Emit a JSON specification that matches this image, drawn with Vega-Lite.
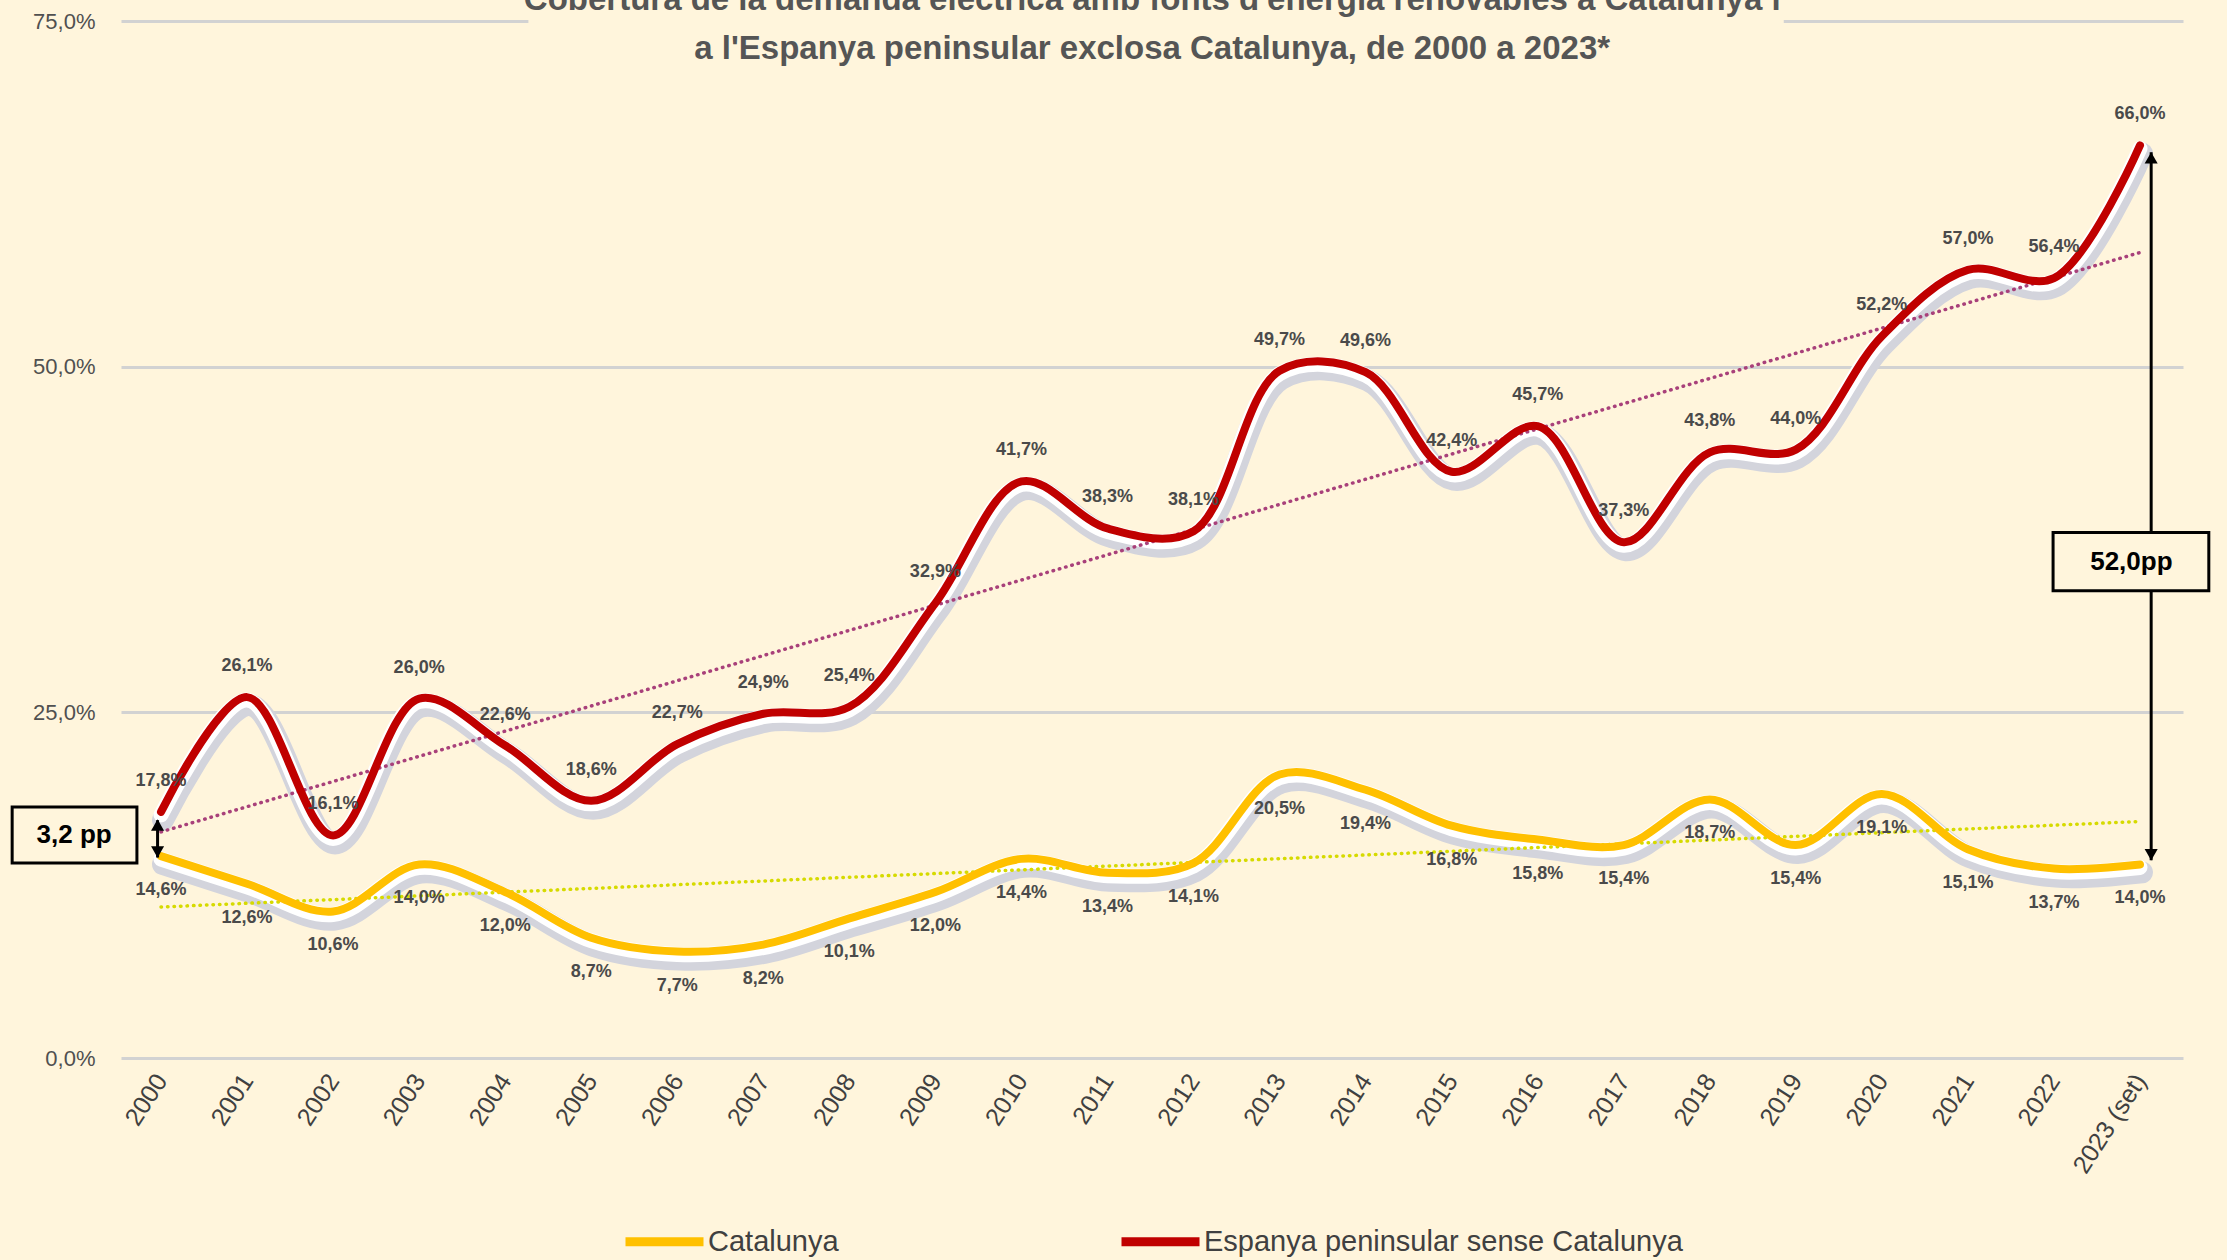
{
  "$schema": "https://vega.github.io/schema/vega-lite/v6.json",
  "autosize": "none",
  "width": 2062,
  "height": 1037,
  "padding": {"left": 121, "top": 21, "right": 44, "bottom": 202},
  "background": "#FFF5DC",
  "config": {
    "view": {"stroke": null},
    "locale": {"number": {"decimal": ",", "thousands": ".", "grouping": [3], "currency": ["", " €"]}},
    "font": "Liberation Sans"
  },
  "datasets": {
    "d": [
      {"year": 2000, "series": "Catalunya", "value": 0.146},
      {"year": 2001, "series": "Catalunya", "value": 0.126},
      {"year": 2002, "series": "Catalunya", "value": 0.106},
      {"year": 2003, "series": "Catalunya", "value": 0.140},
      {"year": 2004, "series": "Catalunya", "value": 0.120},
      {"year": 2005, "series": "Catalunya", "value": 0.087},
      {"year": 2006, "series": "Catalunya", "value": 0.077},
      {"year": 2007, "series": "Catalunya", "value": 0.082},
      {"year": 2008, "series": "Catalunya", "value": 0.101},
      {"year": 2009, "series": "Catalunya", "value": 0.120},
      {"year": 2010, "series": "Catalunya", "value": 0.144},
      {"year": 2011, "series": "Catalunya", "value": 0.134},
      {"year": 2012, "series": "Catalunya", "value": 0.141},
      {"year": 2013, "series": "Catalunya", "value": 0.205},
      {"year": 2014, "series": "Catalunya", "value": 0.194},
      {"year": 2015, "series": "Catalunya", "value": 0.168},
      {"year": 2016, "series": "Catalunya", "value": 0.158},
      {"year": 2017, "series": "Catalunya", "value": 0.154},
      {"year": 2018, "series": "Catalunya", "value": 0.187},
      {"year": 2019, "series": "Catalunya", "value": 0.154},
      {"year": 2020, "series": "Catalunya", "value": 0.191},
      {"year": 2021, "series": "Catalunya", "value": 0.151},
      {"year": 2022, "series": "Catalunya", "value": 0.137},
      {"year": 2023, "series": "Catalunya", "value": 0.140},
      {"year": 2000, "series": "Espanya peninsular sense Catalunya", "value": 0.178},
      {"year": 2001, "series": "Espanya peninsular sense Catalunya", "value": 0.261},
      {"year": 2002, "series": "Espanya peninsular sense Catalunya", "value": 0.161},
      {"year": 2003, "series": "Espanya peninsular sense Catalunya", "value": 0.260},
      {"year": 2004, "series": "Espanya peninsular sense Catalunya", "value": 0.226},
      {"year": 2005, "series": "Espanya peninsular sense Catalunya", "value": 0.186},
      {"year": 2006, "series": "Espanya peninsular sense Catalunya", "value": 0.227},
      {"year": 2007, "series": "Espanya peninsular sense Catalunya", "value": 0.249},
      {"year": 2008, "series": "Espanya peninsular sense Catalunya", "value": 0.254},
      {"year": 2009, "series": "Espanya peninsular sense Catalunya", "value": 0.329},
      {"year": 2010, "series": "Espanya peninsular sense Catalunya", "value": 0.417},
      {"year": 2011, "series": "Espanya peninsular sense Catalunya", "value": 0.383},
      {"year": 2012, "series": "Espanya peninsular sense Catalunya", "value": 0.381},
      {"year": 2013, "series": "Espanya peninsular sense Catalunya", "value": 0.497},
      {"year": 2014, "series": "Espanya peninsular sense Catalunya", "value": 0.496},
      {"year": 2015, "series": "Espanya peninsular sense Catalunya", "value": 0.424},
      {"year": 2016, "series": "Espanya peninsular sense Catalunya", "value": 0.457},
      {"year": 2017, "series": "Espanya peninsular sense Catalunya", "value": 0.373},
      {"year": 2018, "series": "Espanya peninsular sense Catalunya", "value": 0.438},
      {"year": 2019, "series": "Espanya peninsular sense Catalunya", "value": 0.440},
      {"year": 2020, "series": "Espanya peninsular sense Catalunya", "value": 0.522},
      {"year": 2021, "series": "Espanya peninsular sense Catalunya", "value": 0.570},
      {"year": 2022, "series": "Espanya peninsular sense Catalunya", "value": 0.564},
      {"year": 2023, "series": "Espanya peninsular sense Catalunya", "value": 0.660}
    ]
  },
  "data": {"name": "d"},
  "encoding": {
    "x": {
      "field": "year", "type": "quantitative",
      "scale": {"domain": [1999.535, 2023.5], "nice": false, "zero": false},
      "axis": {
        "title": null, "values": [2000,2001,2002,2003,2004,2005,2006,2007,2008,2009,2010,2011,2012,2013,2014,2015,2016,2017,2018,2019,2020,2021,2022,2023],
        "labelExpr": "datum.value == 2023 ? '2023 (set)' : '' + datum.value",
        "labelAngle": -57, "labelFontSize": 25, "labelColor": "#404040",
        "labelPadding": 18, "domain": false, "ticks": false, "grid": false,
        "labelFont": "Liberation Sans", "labelOverlap": false, "labelBound": false, "labelFlush": false
      }
    },
    "y": {
      "field": "value", "type": "quantitative",
      "scale": {"domain": [0, 0.75], "nice": false},
      "axis": {
        "title": null, "values": [0, 0.25, 0.5, 0.75], "format": ".1%",
        "labelFontSize": 22, "labelColor": "#505050", "labelPadding": 26,
        "domain": false, "ticks": false, "grid": true, "gridColor": "#d2d2d2", "gridWidth": 3,
        "labelFont": "Liberation Sans"
      }
    }
  },
  "layer": [
    {
      "transform": [{"filter": "datum.year == 2000 && datum.series == 'Catalunya'"}],
      "mark": {"type": "rect", "fill": "#FFF5DC"},
      "encoding": {
        "x": {"datum": 2004.27, "type": "quantitative"},
        "x2": {"datum": 2018.86},
        "y": {"datum": 0.74, "type": "quantitative"},
        "y2": {"datum": 0.76}
      }
    },
    {
      "mark": {"type": "line", "interpolate": "catmull-rom", "stroke": "#d3d4dc", "strokeWidth": 22, "yOffset": 8, "xOffset": 2, "strokeCap": "round", "strokeJoin": "round"},
      "encoding": {"detail": {"field": "series"}}
    },
    {
      "mark": {"type": "line", "interpolate": "catmull-rom", "stroke": "#ffffff", "strokeWidth": 15, "yOffset": 3, "strokeCap": "round", "strokeJoin": "round"},
      "encoding": {"detail": {"field": "series"}}
    },
    {
      "transform": [{"filter": "datum.series == 'Catalunya'"}, {"regression": "value", "on": "year"}],
      "mark": {"type": "line", "stroke": "#D6DA00", "strokeWidth": 3.5, "strokeDash": [0.5, 6], "strokeCap": "round"},
      "encoding": {}
    },
    {
      "transform": [{"filter": "datum.series != 'Catalunya'"}, {"regression": "value", "on": "year"}],
      "mark": {"type": "line", "stroke": "#A8407A", "strokeWidth": 3.5, "strokeDash": [0.5, 6], "strokeCap": "round"},
      "encoding": {}
    },
    {
      "mark": {"type": "line", "interpolate": "catmull-rom", "strokeWidth": 8, "strokeCap": "round", "strokeJoin": "round"},
      "encoding": {
        "color": {
          "field": "series", "type": "nominal",
          "scale": {"domain": ["Catalunya", "Espanya peninsular sense Catalunya"], "range": ["#FFC000", "#C00000"]},
          "legend": {
            "title": null, "orient": "none", "direction": "horizontal", "legendX": 500, "legendY": 1177,
            "symbolType": "stroke", "symbolSize": 6084, "symbolStrokeWidth": 9,
            "labelFontSize": 29, "labelColor": "#404040", "labelFont": "Liberation Sans", "labelLimit": 600,
            "columnPadding": 264, "labelOffset": 0
          }
        }
      }
    },
    {
      "transform": [{"filter": "datum.series == 'Catalunya'"}],
      "mark": {"type": "text", "dy": 34, "fontSize": 18, "fontWeight": "bold", "color": "#4a4a4a", "baseline": "middle"},
      "encoding": {"text": {"field": "value", "type": "quantitative", "format": ".1%"}}
    },
    {
      "transform": [{"filter": "datum.series != 'Catalunya'"}],
      "mark": {"type": "text", "dy": -31, "fontSize": 18, "fontWeight": "bold", "color": "#4a4a4a", "baseline": "middle"},
      "encoding": {"text": {"field": "value", "type": "quantitative", "format": ".1%"}}
    },
    {
      "transform": [{"filter": "datum.year == 2000 && datum.series == 'Catalunya'"}],
      "mark": {"type": "rule", "color": "black", "strokeWidth": 3},
      "encoding": {
        "x": {"datum": 1999.96, "type": "quantitative"},
        "y": {"datum": 0.172, "type": "quantitative"},
        "y2": {"datum": 0.145}
      }
    },
    {
      "transform": [{"filter": "datum.year == 2000 && datum.series == 'Catalunya'"}],
      "mark": {"type": "rule", "color": "black", "strokeWidth": 3},
      "encoding": {
        "x": {"datum": 2023.13, "type": "quantitative"},
        "y": {"datum": 0.655, "type": "quantitative"},
        "y2": {"datum": 0.143}
      }
    },
    {
      "transform": [{"filter": "datum.year == 2000 && datum.series == 'Catalunya'"}],
      "mark": {"type": "point", "shape": "triangle-up", "filled": true, "color": "black", "size": 170, "opacity": 1},
      "encoding": {
        "x": {"datum": 1999.96, "type": "quantitative"},
        "y": {"datum": 0.1685, "type": "quantitative"}
      }
    },
    {
      "transform": [{"filter": "datum.year == 2000 && datum.series == 'Catalunya'"}],
      "mark": {"type": "point", "shape": "triangle-down", "filled": true, "color": "black", "size": 170, "opacity": 1},
      "encoding": {
        "x": {"datum": 1999.96, "type": "quantitative"},
        "y": {"datum": 0.149, "type": "quantitative"}
      }
    },
    {
      "transform": [{"filter": "datum.year == 2000 && datum.series == 'Catalunya'"}],
      "mark": {"type": "point", "shape": "triangle-up", "filled": true, "color": "black", "size": 170, "opacity": 1},
      "encoding": {
        "x": {"datum": 2023.13, "type": "quantitative"},
        "y": {"datum": 0.651, "type": "quantitative"}
      }
    },
    {
      "transform": [{"filter": "datum.year == 2000 && datum.series == 'Catalunya'"}],
      "mark": {"type": "point", "shape": "triangle-down", "filled": true, "color": "black", "size": 170, "opacity": 1},
      "encoding": {
        "x": {"datum": 2023.13, "type": "quantitative"},
        "y": {"datum": 0.147, "type": "quantitative"}
      }
    },
    {
      "transform": [{"filter": "datum.year == 2000 && datum.series == 'Catalunya'"}],
      "mark": {"type": "rect", "fill": "#FFF5DC", "stroke": "black", "strokeWidth": 3},
      "encoding": {
        "x": {"datum": 1998.27, "type": "quantitative"},
        "x2": {"datum": 1999.72},
        "y": {"datum": 0.1816, "type": "quantitative"},
        "y2": {"datum": 0.1411}
      }
    },
    {
      "transform": [{"filter": "datum.year == 2000 && datum.series == 'Catalunya'"}],
      "mark": {"type": "rect", "fill": "#FFF5DC", "stroke": "black", "strokeWidth": 3},
      "encoding": {
        "x": {"datum": 2021.99, "type": "quantitative"},
        "x2": {"datum": 2023.8},
        "y": {"datum": 0.380, "type": "quantitative"},
        "y2": {"datum": 0.338}
      }
    },
    {
      "transform": [{"filter": "datum.year == 2000 && datum.series == 'Catalunya'"}],
      "mark": {"type": "text", "text": "3,2 pp", "fontSize": 26, "fontWeight": "bold", "color": "black", "baseline": "middle", "align": "center"},
      "encoding": {
        "x": {"datum": 1998.99, "type": "quantitative"},
        "y": {"datum": 0.1614, "type": "quantitative"}
      }
    },
    {
      "transform": [{"filter": "datum.year == 2000 && datum.series == 'Catalunya'"}],
      "mark": {"type": "text", "text": "52,0pp", "fontSize": 26, "fontWeight": "bold", "color": "black", "baseline": "middle", "align": "center"},
      "encoding": {
        "x": {"datum": 2022.9, "type": "quantitative"},
        "y": {"datum": 0.359, "type": "quantitative"}
      }
    },
    {
      "transform": [{"filter": "datum.year == 2000 && datum.series == 'Catalunya'"}],
      "mark": {"type": "text", "text": ["Cobertura de la demanda elèctrica amb fonts d'energia renovables a Catalunya i", "a l'Espanya peninsular exclosa Catalunya, de 2000 a 2023*"], "lineHeight": 49, "fontSize": 33, "fontWeight": "bold", "color": "#555555", "baseline": "alphabetic", "align": "center"},
      "encoding": {
        "x": {"datum": 2011.52, "type": "quantitative"},
        "y": {"datum": 0.7576, "type": "quantitative"}
      }
    }
  ]
}
